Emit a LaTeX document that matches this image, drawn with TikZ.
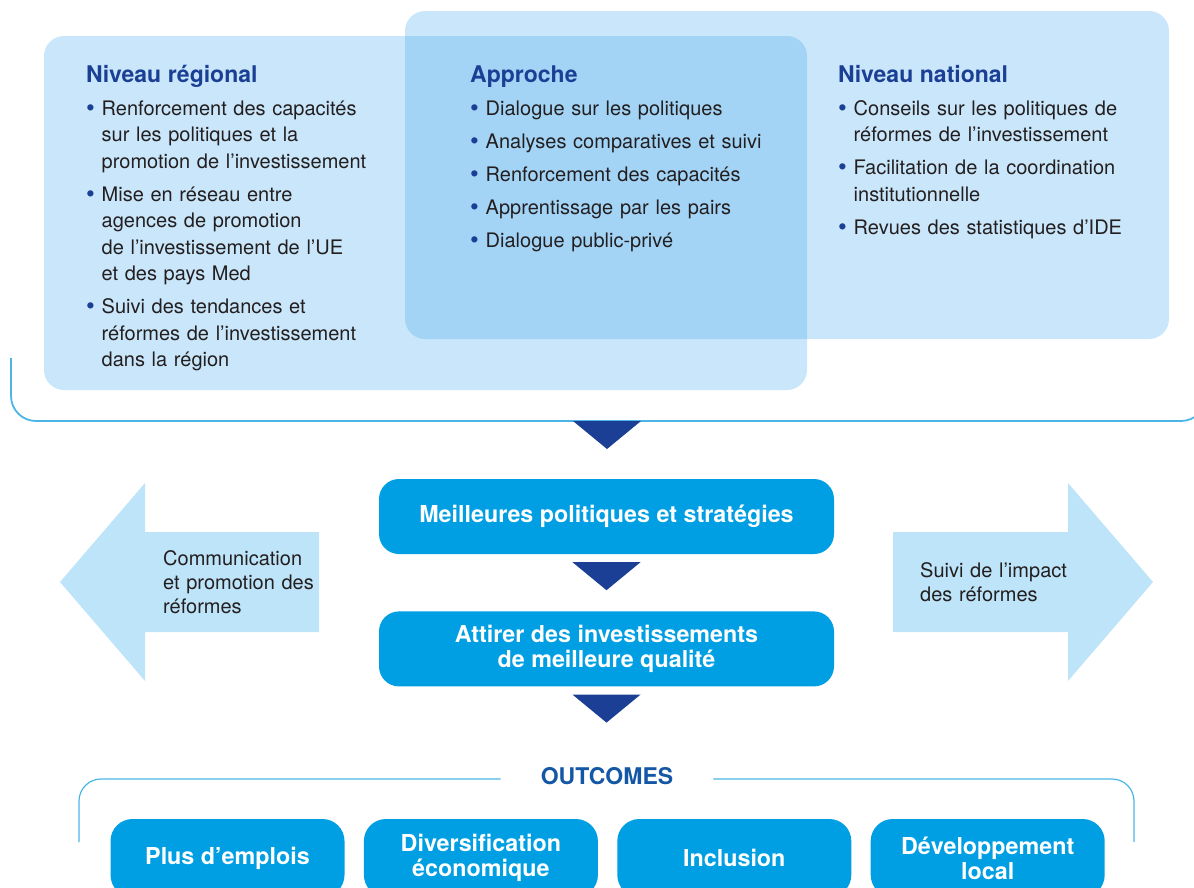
\documentclass[tikz,border=0pt]{standalone}
\usepackage{fontspec}
\setmainfont{TeX Gyre Heros}
\usepackage{xcolor}
\usetikzlibrary{positioning}

\definecolor{navy}{HTML}{1B3F94}
\definecolor{cyanbox}{HTML}{009FE3}
\definecolor{panelblue}{HTML}{3EA6ED}
\definecolor{arrowblue}{HTML}{BEE4F9}
\definecolor{linecyan}{HTML}{4BB6E6}
\definecolor{ink}{HTML}{231F20}
\definecolor{outblue}{HTML}{1457A6}

% heading and bullet item inside the three columns
\newcommand{\hd}[1]{{\fontsize{23}{28}\selectfont\bfseries\color{navy}#1\par}\vspace{6.5pt}}
\newcommand{\itm}[1]{\hangindent=15.5pt\hangafter=1\noindent\makebox[15.5pt][l]{\color{navy}\raisebox{-1pt}{\fontsize{25}{25}\selectfont\textbullet}}#1\par\vspace{6.5pt}}

\begin{document}
\begin{tikzpicture}[
  x=1pt, y=-1pt,
  panel/.style={fill=panelblue, fill opacity=0.28, rounded corners=20pt, inner sep=0pt},
  col/.style={anchor=base west, align=left, inner sep=0pt, text=ink,
    font=\fontsize{20}{26.5}\selectfont},
  box/.style={fill=cyanbox, text=white, rounded corners=20pt,
    minimum width=455pt, minimum height=75pt, inner sep=0pt,
    align=center, font=\fontsize{23.3}{25}\selectfont\bfseries},
  obox/.style={box, minimum width=234pt, minimum height=78pt, rounded corners=22pt},
  side/.style={fill=arrowblue},
  lab/.style={anchor=base west, align=left, inner sep=0pt, text=ink, text width=180pt,
    font=\fontsize{20}{24}\selectfont},
  bracket/.style={draw=linecyan, line width=1.8pt},
  tri/.pic={\fill[navy] (-34pt,0pt) -- (34pt,0pt) -- (0pt,-28pt) -- cycle;}
]
\useasboundingbox (0,0) rectangle (1194,887);
\clip (0,0) rectangle (1194,887);

% --- Two overlapping panels ---
\node[panel, minimum width=763pt, minimum height=354pt] (reg) at (425.5,213) {};
\node[panel, minimum width=764pt, minimum height=328pt] (nat) at (787,175) {};

\node[col, text width=300pt] (regtxt) at (86,82) {%
  \hd{Niveau régional}
  \itm{Renforcement des capacités\newline sur les politiques et la\newline promotion de l’investissement}
  \itm{Mise en réseau entre\newline agences de promotion\newline de l’investissement de l’UE\newline et des pays Med}
  \itm{Suivi des tendances et\newline réformes de l’investissement\newline dans la région}};

\node[col, text width=320pt] (apptxt) at (470,82) {%
  \hd{Approche}
  \itm{Dialogue sur les politiques}
  \itm{Analyses comparatives et suivi}
  \itm{Renforcement des capacités}
  \itm{Apprentissage par les pairs}
  \itm{Dialogue public-privé}};

\node[col, text width=320pt] (nattxt) at (838,82) {%
  \hd{Niveau national}
  \itm{Conseils sur les politiques de\newline réformes de l’investissement}
  \itm{Facilitation de la coordination\newline institutionnelle}
  \itm{Revues des statistiques d’IDE}};

% --- Bracket under the panels ---
\draw[bracket, rounded corners=25pt] (11,358) -- (11,421) -- (1206,421) -- (1206,380);

% --- Central chain ---
\coordinate (t0) at (607,421);
\path (t0) pic {tri};
\node[box] (pol) at (606.5,516.5) {Meilleures politiques et stratégies};
\node[box, below=57pt of pol] (inv) {Attirer des investissements\\de meilleure qualité};
\path (pol.south) ++(0,-8pt) pic {tri};
\path (inv.south) ++(0,-8pt) pic {tri};

% --- Side arrows ---
\fill[side] (319,532) -- (145,532) -- (145,483) -- (60,582) -- (145,681) -- (145,632) -- (319,632) -- cycle;
\fill[side] (893,532) -- (1068,532) -- (1068,483) -- (1153,582) -- (1068,681) -- (1068,632) -- (893,632) -- cycle;
\node[lab] (comm) at (163,565) {Communication\\et promotion des\\réformes};
\node[lab] (suivi) at (920,577) {Suivi de l’impact\\des réformes};

% --- Outcomes ---
\node[font=\fontsize{23}{25}\selectfont\bfseries, text=outblue, inner xsep=40pt, inner ysep=0pt] (outc) at (607,776) {OUTCOMES};
\draw[bracket, line width=1.2pt, rounded corners=22pt] ([yshift=-3pt]outc.west) -- (79,779) -- (79,842);
\draw[bracket, line width=1.2pt, rounded corners=22pt] ([yshift=-3pt]outc.east) -- (1134,779) -- (1134,842);

\node[obox] (o1) at (227.5,858) {Plus d’emplois};
\node[obox, right=19pt of o1] (o2) {Diversification\\économique};
\node[obox, right=19pt of o2] (o3) {Inclusion};
\node[obox, right=19pt of o3] (o4) {Développement\\local};

\end{tikzpicture}
\end{document}
